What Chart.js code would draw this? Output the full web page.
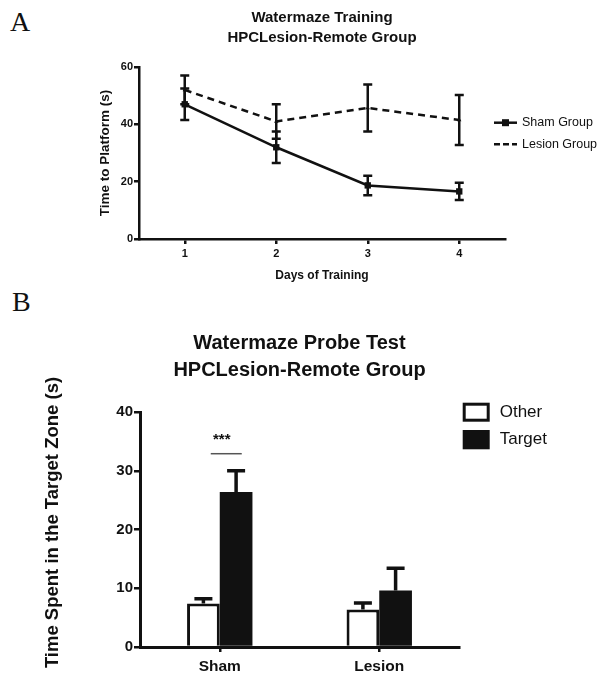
<!DOCTYPE html>
<html>
<head>
<meta charset="utf-8">
<script src="https://cdn.jsdelivr.net/npm/chart.js@4.4.1/dist/chart.umd.min.js"></script>
<style>
  body { margin: 0; background: #fff; width: 600px; height: 675px; position: relative; overflow: hidden; }
  .letter { position: absolute; font-family: "Liberation Serif", "DejaVu Serif", serif; font-size: 28px; line-height: 28px; color: #111; }
  #wrapA { position: absolute; left: 0; top: 0; width: 600px; height: 285px; }
  #wrapB { position: absolute; left: 0; top: 285px; width: 600px; height: 390px; }
</style>
</head>
<body>
<div class="letter" style="left:10px; top:8px;">A</div>
<div class="letter" style="left:12px; top:288px;">B</div>
<div id="wrapA"><canvas id="chartA" width="600" height="285"></canvas></div>
<div id="wrapB"><canvas id="chartB" width="600" height="390"></canvas></div>
<script>
// Panel A - datos
const days = [1, 2, 3, 4];
const shamMean = [47, 32, 18.7, 16.6];
const shamSem = [5.5, 5.5, 3.4, 3];
const lesionMean = [52, 41, 45.7, 41.5];
const lesionSem = [5, 6, 8.2, 8.7];
const yTicksA = [0, 20, 40, 60];

// Panel B - datos
const groups = ['Sham', 'Lesion'];
const otherMean = [7.4, 6.4];
const otherSem = [0.8, 1.1];
const targetMean = [26.4, 9.6];
const targetSem = [3.6, 3.8];
const yTicksB = [0, 10, 20, 30, 40];

const INK = '#111';
const SANS = '"Liberation Sans", Arial, sans-serif';

// Titulo centrado sobre el area del grafico (y titulo vertical opcional)
const centerTitle = {
    id: 'centerTitle',
    afterDraw(chart, args, opts) {
        const ctx = chart.ctx;
        const cx = (chart.chartArea.left + chart.chartArea.right) / 2;
        ctx.save();
        ctx.fillStyle = INK;
        ctx.font = 'bold ' + opts.size + 'px ' + SANS;
        ctx.textAlign = 'center';
        ctx.textBaseline = 'middle';
        opts.lines.forEach((t, k) => ctx.fillText(t, cx, opts.y[k]));
        if (opts.yTitle) {
            ctx.font = 'bold ' + opts.yTitle.size + 'px ' + SANS;
            ctx.translate(opts.yTitle.x, opts.yTitle.y);
            ctx.rotate(-Math.PI / 2);
            ctx.fillText(opts.yTitle.text, 0, 0);
        }
        ctx.restore();
    }
};

// Barras de error (usa posiciones de los elementos del grafico)
const errorBars = {
    id: 'errorBars',
    afterDatasetsDraw(chart, args, opts) {
        const ctx = chart.ctx;
        const y = chart.scales.y;
        chart.data.datasets.forEach((ds, i) => {
            if (!ds.sem) return;
            const meta = chart.getDatasetMeta(i);
            ctx.save();
            ctx.strokeStyle = INK;
            ctx.lineWidth = opts.width;
            ctx.setLineDash([]);
            meta.data.forEach((el, j) => {
                const m = ds.mean[j], s = ds.sem[j];
                const top = y.getPixelForValue(m + s);
                const bot = opts.upOnly ? y.getPixelForValue(m) : y.getPixelForValue(m - s);
                ctx.beginPath();
                ctx.moveTo(el.x, top);
                ctx.lineTo(el.x, bot);
                ctx.moveTo(el.x - opts.cap, top);
                ctx.lineTo(el.x + opts.cap, top);
                if (!opts.upOnly) {
                    ctx.moveTo(el.x - opts.cap, bot);
                    ctx.lineTo(el.x + opts.cap, bot);
                }
                ctx.stroke();
            });
            ctx.restore();
        });
    }
};

// Leyenda panel A
const legendA = {
    id: 'legendA',
    afterDraw(chart) {
        const ctx = chart.ctx;
        const x0 = chart.chartArea.right - 11;
        const rows = [
            { label: 'Sham Group', y: 122.7, dash: [], marker: 'rect' },
            { label: 'Lesion Group', y: 144.3, dash: [6, 3], marker: 'tri' }
        ];
        ctx.save();
        rows.forEach(r => {
            ctx.strokeStyle = INK;
            ctx.fillStyle = INK;
            ctx.lineWidth = 2.5;
            ctx.setLineDash(r.dash);
            ctx.beginPath();
            ctx.moveTo(x0, r.y);
            ctx.lineTo(x0 + 23, r.y);
            ctx.stroke();
            ctx.setLineDash([]);
            if (r.marker === 'rect') ctx.fillRect(x0 + 8, r.y - 3.5, 7, 7);
            ctx.font = '12.5px ' + SANS;
            ctx.textBaseline = 'middle';
            ctx.textAlign = 'left';
            ctx.fillText(r.label, x0 + 28, r.y);
        });
        ctx.restore();
    }
};

// Leyenda y significancia panel B
const legendB = {
    id: 'legendB',
    afterDraw(chart) {
        const ctx = chart.ctx;
        const x0 = chart.chartArea.right + 3.7;
        ctx.save();
        ctx.strokeStyle = INK;
        ctx.fillStyle = INK;
        ctx.lineWidth = 3;
        ctx.strokeRect(x0 + 1.5, 117.7 + 1.5, 24, 16);
        ctx.fillRect(x0, 145, 27, 19.3);
        ctx.font = '17px ' + SANS;
        ctx.textBaseline = 'middle';
        ctx.fillText('Other', x0 + 37, 127);
        ctx.fillText('Target', x0 + 37, 154.5);

        // *** sobre Sham
        const y = chart.scales.y;
        const cx = chart.scales.x.getPixelForValue(0);
        ctx.font = 'bold 15px ' + SANS;
        ctx.textAlign = 'center';
        ctx.fillText('***', cx + 2, y.getPixelForValue(35.2));
        ctx.strokeStyle = '#555';
        ctx.lineWidth = 1.5;
        ctx.beginPath();
        ctx.moveTo(cx - 9, y.getPixelForValue(32.9));
        ctx.lineTo(cx + 22, y.getPixelForValue(32.9));
        ctx.stroke();
        ctx.restore();
    }
};

new Chart(document.getElementById('chartA').getContext('2d'), {
    type: 'line',
    data: {
        datasets: [{
            label: 'Sham Group',
            data: days.map((d, k) => ({ x: d, y: shamMean[k] })),
            mean: shamMean,
            sem: shamSem,
            borderColor: INK,
            backgroundColor: INK,
            borderWidth: 2.5,
            pointStyle: 'rect',
            pointRadius: 4.5,
            pointBorderWidth: 0,
            tension: 0
        }, {
            label: 'Lesion Group',
            data: days.map((d, k) => ({ x: d, y: lesionMean[k] })),
            mean: lesionMean,
            sem: lesionSem,
            borderColor: INK,
            backgroundColor: INK,
            borderWidth: 2.5,
            borderDash: [7, 5],
            pointStyle: 'triangle',
            pointRadius: 2.5,
            pointBorderWidth: 0,
            tension: 0
        }]
    },
    options: {
        responsive: false,
        animation: false,
        layout: { padding: { top: 67, right: 95, left: 0, bottom: 0 } },
        plugins: {
            legend: { display: false },
            tooltip: { enabled: false },
            title: { display: false },
            centerTitle: { lines: ['Watermaze Training', 'HPCLesion-Remote Group'], y: [18, 37.5], size: 15 },
            errorBars: { width: 2.5, cap: 4.5, upOnly: false }
        },
        scales: {
            x: {
                type: 'linear',
                min: 0.5,
                max: 4.5,
                afterFit: s => { s.height = 46; },
                afterBuildTicks: s => { s.ticks = days.map(v => ({ value: v })); },
                border: { display: true, color: INK, width: 2.5 },
                grid: { drawOnChartArea: false, drawTicks: true, tickLength: 5, color: INK, lineWidth: 2.5 },
                ticks: { color: INK, padding: 3, font: { family: SANS, size: 11, weight: 'bold' } },
                title: {
                    display: true,
                    text: 'Days of Training',
                    color: INK,
                    font: { family: SANS, size: 12, weight: 'bold' },
                    padding: { top: 0, bottom: 2 }
                }
            },
            y: {
                min: 0,
                max: 60,
                afterFit: s => { s.width = 139; },
                afterBuildTicks: s => { s.ticks = yTicksA.map(v => ({ value: v })); },
                border: { display: true, color: INK, width: 2.5 },
                grid: { drawOnChartArea: false, drawTicks: true, tickLength: 5, color: INK, lineWidth: 2.5 },
                ticks: { color: INK, padding: 1, font: { family: SANS, size: 11, weight: 'bold' } },
                title: {
                    display: true,
                    text: 'Time to Platform (s)',
                    color: INK,
                    font: { family: SANS, size: 13.5, weight: 'bold' },
                    padding: { top: 97, bottom: 0 }
                }
            }
        }
    },
    plugins: [centerTitle, errorBars, legendA]
});

new Chart(document.getElementById('chartB').getContext('2d'), {
    type: 'bar',
    data: {
        labels: groups,
        datasets: [{
            label: 'Other',
            data: otherMean,
            mean: otherMean,
            sem: otherSem,
            backgroundColor: '#fff',
            borderColor: INK,
            borderWidth: 3
        }, {
            label: 'Target',
            data: targetMean,
            mean: targetMean,
            sem: targetSem,
            backgroundColor: INK,
            borderColor: INK,
            borderWidth: 0
        }]
    },
    options: {
        responsive: false,
        animation: false,
        layout: { padding: { top: 127, right: 141, left: 0, bottom: 0 } },
        datasets: { bar: { barPercentage: 1, categoryPercentage: 0.41 } },
        plugins: {
            legend: { display: false },
            tooltip: { enabled: false },
            title: { display: false },
            centerTitle: {
                lines: ['Watermaze Probe Test', 'HPCLesion-Remote Group'], y: [58, 85], size: 20,
                yTitle: { text: 'Time Spent in the Target Zone (s)', x: 53, y: 237.5, size: 18.5 }
            },
            errorBars: { width: 3.5, cap: 9, upOnly: true }
        },
        scales: {
            x: {
                afterFit: s => { s.height = 28; },
                border: { display: true, color: INK, width: 3 },
                grid: { offset: false, drawOnChartArea: false, drawTicks: true, tickLength: 5, color: INK, lineWidth: 2.5 },
                ticks: { color: INK, padding: 5, font: { family: SANS, size: 15.5, weight: 'bold' } }
            },
            y: {
                min: 0,
                max: 40,
                afterFit: s => { s.width = 140; },
                afterBuildTicks: s => { s.ticks = yTicksB.map(v => ({ value: v })); },
                border: { display: true, color: INK, width: 3 },
                grid: { drawOnChartArea: false, drawTicks: true, tickLength: 6, color: INK, lineWidth: 2.5 },
                ticks: { color: INK, padding: 1, font: { family: SANS, size: 15, weight: 'bold' } },
                title: { display: false }
            }
        }
    },
    plugins: [centerTitle, errorBars, legendB]
});
</script>
</body>
</html>
